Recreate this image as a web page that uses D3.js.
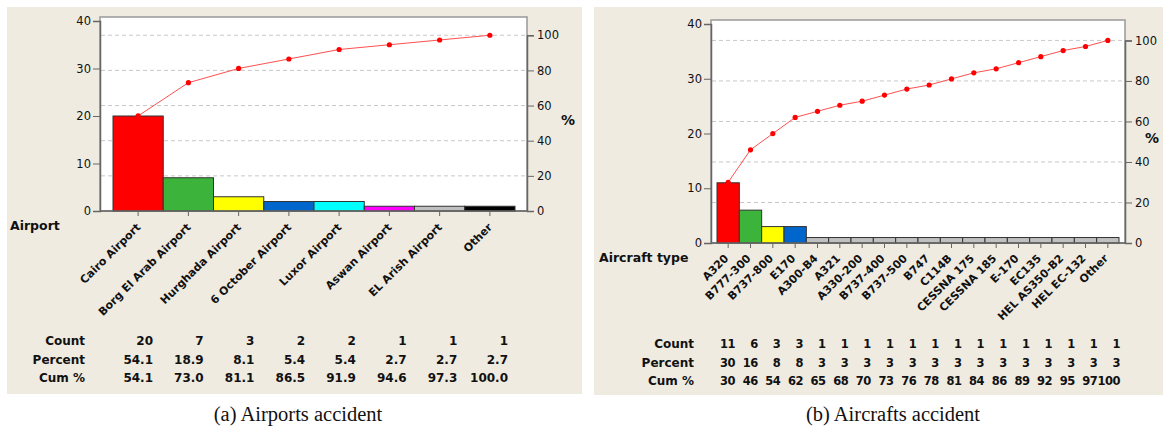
<!DOCTYPE html>
<html lang="en">
<head>
  <meta charset="UTF-8">
  <title>Pareto charts</title>
  <style>
    body { margin: 0; background: #fff; }
    svg text { font-family: "DejaVu Sans", sans-serif; fill: #111; }
  </style>
</head>
<body>
  <div id="main"></div>
</body>
</html>
<script src="https://cdn.jsdelivr.net/npm/d3@7/dist/d3.min.js"></script>
<script>
  // (a) airports
  let airportCats = ["Cairo Airport", "Borg El Arab Airport", "Hurghada Airport", "6 October Airport",
    "Luxor Airport", "Aswan Airport", "EL Arish Airport", "Other"]
  let airportCounts = [20, 7, 3, 2, 2, 1, 1, 1]
  let airportPercent = [54.1, 18.9, 8.1, 5.4, 5.4, 2.7, 2.7, 2.7]
  let airportCum = [54.1, 73.0, 81.1, 86.5, 91.9, 94.6, 97.3, 100.0]
  let airportColors = ["#ff0000", "#3cb43c", "#ffff00", "#0066cc", "#00ffff", "#ff00ff", "#c0c0c0", "#000000"]

  // (b) aircraft
  let aircraftCats = ["A320", "B777-300", "B737-800", "E170", "A300-B4", "A321", "A330-200", "B737-400",
    "B737-500", "B747", "C114B", "CESSNA 175", "CESSNA 185", "E-170", "EC135", "HEL AS350-B2", "HEL EC-132", "Other"]
  let aircraftCounts = [11, 6, 3, 3, 1, 1, 1, 1, 1, 1, 1, 1, 1, 1, 1, 1, 1, 1]
  let aircraftPercent = [30, 16, 8, 8, 3, 3, 3, 3, 3, 3, 3, 3, 3, 3, 3, 3, 3, 3]
  let aircraftCum = [30, 46, 54, 62, 65, 68, 70, 73, 76, 78, 81, 84, 86, 89, 92, 95, 97, 100]
  let aircraftColors = ["#ff0000", "#3cb43c", "#ffff00", "#0066cc"].concat(d3.range(14).map(() => "#c0c0c0"))

  let countTicks = [0, 10, 20, 30, 40]
  let pctTicks = [0, 20, 40, 60, 80, 100]

  let svg = d3.select('#main').append('svg')
    .attr('width', 1163)
    .attr('height', 428)

  function drawPareto(o) {
    let g = svg.append('g')

    // panel background
    g.append('rect')
      .attr('x', o.panel[0]).attr('y', o.panel[1])
      .attr('width', o.panel[2]).attr('height', o.panel[3])
      .attr('fill', '#efebe1')

    let total = d3.sum(o.counts)
    let y = d3.scaleLinear().domain([0, 40]).range([o.y0, o.y40])
    let yPct = d3.scaleLinear().domain([0, 100]).range([o.y0, y(total)])
    let x = d3.scaleBand().domain(o.cats).range(o.barRange).padding(0)
    let xTab = d3.scalePoint().domain(o.cats).range(o.tabRange)

    // plot area
    g.append('rect')
      .attr('x', o.left).attr('y', o.top)
      .attr('width', o.right - o.left).attr('height', o.y0 - o.top)
      .attr('fill', '#fff')
      .attr('stroke', '#999')
      .attr('stroke-width', 1.5)

    // dashed grid at percent ticks
    g.selectAll('.grid').data(pctTicks.slice(1)).enter().append('line')
      .attr('x1', o.left + 1).attr('x2', o.right - 1)
      .attr('y1', d => yPct(d)).attr('y2', d => yPct(d))
      .attr('stroke', '#c8c8c8')
      .attr('stroke-dasharray', '4 3')

    // bars
    g.selectAll('.bar').data(o.cats).enter().append('rect')
      .attr('x', d => x(d))
      .attr('y', (d, i) => y(o.counts[i]))
      .attr('width', x.bandwidth())
      .attr('height', (d, i) => o.y0 - y(o.counts[i]))
      .attr('fill', (d, i) => o.colors[i])
      .attr('stroke', '#333')
      .attr('stroke-width', 1)

    // cumulative line
    let line = d3.line()
      .x((d, i) => x(o.cats[i]) + x.bandwidth() / 2)
      .y(d => yPct(d))
    g.append('path')
      .datum(o.cum)
      .attr('d', line)
      .attr('fill', 'none')
      .attr('stroke', '#ff5050')
      .attr('stroke-width', 1)
    g.selectAll('.dot').data(o.cum).enter().append('circle')
      .attr('cx', (d, i) => x(o.cats[i]) + x.bandwidth() / 2)
      .attr('cy', d => yPct(d))
      .attr('r', 2.6)
      .attr('fill', '#ff0000')

    // axes
    let ax = g.append('g').attr('transform', `translate(${o.left},0)`)
      .call(d3.axisLeft(y).tickValues(countTicks).tickSize(7).tickPadding(2))
    let axR = g.append('g').attr('transform', `translate(${o.right},0)`)
      .call(d3.axisRight(yPct).tickValues(pctTicks).tickSize(7).tickPadding(3))
    let axB = g.append('g').attr('transform', `translate(0,${o.y0})`)
      .call(d3.axisBottom(x).tickSize(5).tickFormat(''))
    axB.select('.domain').attr('d', `M${o.left},0H${o.right}`)
    ;[ax, axR, axB].forEach(a => {
      a.select('.domain').attr('stroke', '#666').attr('stroke-width', 1.5)
      a.selectAll('.tick line').attr('stroke', '#666')
      a.selectAll('.tick text').style('font-size', '11.5px').attr('fill', '#111')
    })

    // rotated category labels
    g.selectAll('.lab').data(o.cats).enter().append('text')
      .attr('transform', d => `translate(${x(d) + x.bandwidth() / 2 + o.labDx},${o.y0 + o.labDy}) rotate(-45)`)
      .attr('text-anchor', 'end')
      .style('font-size', '11px')
      .style('font-weight', 'bold')
      .text(d => d)

    g.append('text')
      .attr('x', o.titleX).attr('y', o.titleY)
      .style('font-size', '12.5px').style('font-weight', 'bold')
      .text(o.title)

    g.append('text')
      .attr('x', o.pctX).attr('y', (o.y0 + o.top) / 2 + 11)
      .style('font-size', '14px').style('font-weight', 'bold')
      .text('%')

    // table
    let rows = [
      ['Count', o.counts.map(d => String(d))],
      ['Percent', o.percent.map(o.fmt)],
      ['Cum %', o.cum.map(o.fmt)]
    ]
    rows.forEach((r, k) => {
      g.append('text')
        .attr('x', o.rowLabX).attr('y', o.rowY[k])
        .attr('text-anchor', 'end')
        .style('font-size', '12px').style('font-weight', 'bold')
        .text(r[0])
      g.selectAll('.cell' + k).data(r[1]).enter().append('text')
        .attr('x', (d, i) => xTab(o.cats[i]))
        .attr('y', o.rowY[k])
        .attr('text-anchor', 'end')
        .style('font-size', o.cellSize).style('font-weight', 'bold')
        .style('letter-spacing', o.cellSpacing)
        .text(d => d)
    })

    // caption
    g.append('text')
      .attr('x', o.capX).attr('y', 421)
      .attr('text-anchor', 'middle')
      .style('font-family', '"Liberation Serif", "Times New Roman", serif')
      .style('font-size', '20.5px')
      .text(o.caption)
  }

  function main() {
    drawPareto({
      panel: [7, 7, 575, 387],
      cats: airportCats, counts: airportCounts, percent: airportPercent, cum: airportCum, colors: airportColors,
      left: 100, right: 527, top: 17, y0: 211, y40: 21,
      barRange: [113, 515], tabRange: [153, 508],
      labDx: 3, labDy: 17,
      title: 'Airport', titleX: 10, titleY: 230,
      pctX: 561,
      rowLabX: 85, rowY: [345, 364, 382],
      cellSize: '12px', cellSpacing: '0px',
      fmt: d => d.toFixed(1),
      caption: '(a) Airports accident', capX: 298
    })
    drawPareto({
      panel: [594, 7, 569, 388],
      cats: aircraftCats, counts: aircraftCounts, percent: aircraftPercent, cum: aircraftCum, colors: aircraftColors,
      left: 711, right: 1125, top: 20, y0: 243, y40: 24,
      barRange: [717, 1119], tabRange: [735, 1120],
      labDx: 1, labDy: 16,
      title: 'Aircraft type', titleX: 599, titleY: 262,
      pctX: 1145,
      rowLabX: 694, rowY: [348, 367, 385],
      cellSize: '11.5px', cellSpacing: '-0.5px',
      fmt: d => String(d),
      caption: '(b) Aircrafts accident', capX: 893
    })
  }

  main()
</script>
